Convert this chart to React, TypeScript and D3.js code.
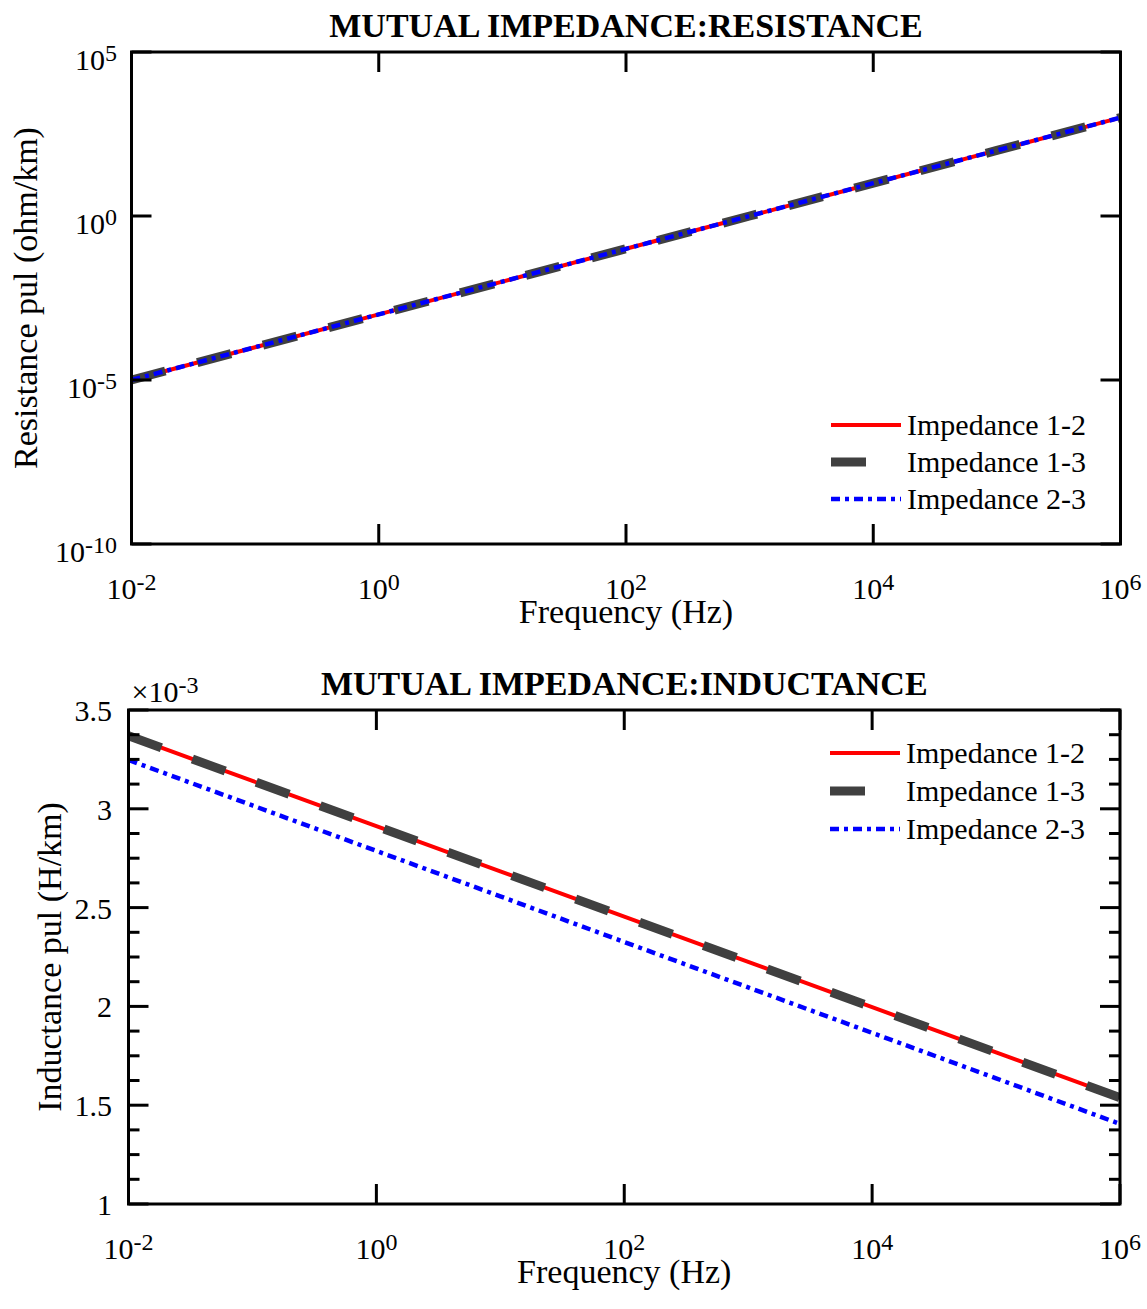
import React from "react";
import * as d3 from "d3";

// ---------- data ----------
const FREQ = [1e-2, 1e-1, 1e0, 1e1, 1e2, 1e3, 1e4, 1e5, 1e6];
const R12 = [1e-5, 1e-4, 1e-3, 1e-2, 1e-1, 1e0, 1e1, 1e2, 1e3];
const R13 = [1e-5, 1e-4, 1e-3, 1e-2, 1e-1, 1e0, 1e1, 1e2, 1e3];
const R23 = [1e-5, 1e-4, 1e-3, 1e-2, 1e-1, 1e0, 1e1, 1e2, 1e3];
const L12 = [3.37, 3.141, 2.912, 2.683, 2.454, 2.225, 1.996, 1.767, 1.538];
const L13 = [3.37, 3.141, 2.912, 2.683, 2.454, 2.225, 1.996, 1.767, 1.538];
const L23 = [3.247, 3.017, 2.787, 2.557, 2.326, 2.096, 1.866, 1.636, 1.405];

const SERIES_NAMES = ["Impedance 1-2", "Impedance 1-3", "Impedance 2-3"];
const X_TICKS = [1e-2, 1e0, 1e2, 1e4, 1e6];
const X_TICK_EXP = ["-2", "0", "2", "4", "6"];
const R_TICKS = [1e-10, 1e-5, 1e0, 1e5];
const R_TICK_EXP = ["-10", "-5", "0", "5"];
const L_TICKS = [1, 1.5, 2, 2.5, 3, 3.5];
const L_TICK_LABELS = ["1", "1.5", "2", "2.5", "3", "3.5"];

const FONT = "'Liberation Serif', 'Times New Roman', serif";

const STYLES = [
  { color: "#ff0000", width: 4, dash: "none", legendLen: 70 },
  { color: "#404040", width: 9, dash: "35,33", legendLen: 35 },
  { color: "#0000ff", width: 4.5, dash: "9,5,4,5", legendLen: 70 },
];

type PanelProps = {
  left: number;
  right: number;
  top: number;
  bottom: number;
  title: string;
  titleY: number;
  ylabel: string;
  ylabelX: number;
  series: number[][];
  logY: boolean;
  legendRows: number[];
  legendX: number;
};

function Panel(p: PanelProps) {
  const x = d3.scaleLog().domain([1e-2, 1e6]).range([p.left, p.right]);
  const y: any = p.logY
    ? d3.scaleLog().domain([1e-10, 1e5]).range([p.bottom, p.top])
    : d3.scaleLinear().domain([1, 3.5]).range([p.bottom, p.top]);
  const line = d3
    .line<number>()
    .x((_, i) => x(FREQ[i]))
    .y((d) => y(d));
  const cx = (p.left + p.right) / 2;
  const cy = (p.top + p.bottom) / 2;
  const major = 20;
  const minor = 11;
  const yMinor = p.logY ? [] : d3.range(1, 3.5001, 0.125).filter((v) => Math.abs(v * 2 - Math.round(v * 2)) > 1e-6);
  const yTicks = p.logY ? R_TICKS : L_TICKS;

  return (
    <g>
      <text x={cx} y={p.titleY} textAnchor="middle" fontFamily={FONT} fontWeight="bold" fontSize={34}>
        {p.title}
      </text>
      {/* data lines */}
      {p.series.map((s, i) => (
        <path
          key={i}
          d={line(s) || ""}
          fill="none"
          stroke={STYLES[i].color}
          strokeWidth={STYLES[i].width}
          strokeDasharray={STYLES[i].dash}
          strokeLinecap="butt"
        />
      ))}
      {/* axes box */}
      <rect x={p.left} y={p.top} width={p.right - p.left} height={p.bottom - p.top} fill="none" stroke="#000" strokeWidth={3} />
      {/* x ticks */}
      {X_TICKS.map((t, i) => (
        <g key={"xt" + i}>
          <line x1={x(t)} x2={x(t)} y1={p.bottom} y2={p.bottom - major} stroke="#000" strokeWidth={3} />
          <line x1={x(t)} x2={x(t)} y1={p.top} y2={p.top + major} stroke="#000" strokeWidth={3} />
          <text x={x(t)} y={p.bottom + 55} textAnchor="middle" fontFamily={FONT} fontSize={30}>
            10
            <tspan fontSize={24} dy={-9}>
              {X_TICK_EXP[i]}
            </tspan>
          </text>
        </g>
      ))}
      {/* y ticks */}
      {yTicks.map((t, i) => (
        <g key={"yt" + i}>
          <line x1={p.left} x2={p.left + major} y1={y(t)} y2={y(t)} stroke="#000" strokeWidth={3} />
          <line x1={p.right} x2={p.right - major} y1={y(t)} y2={y(t)} stroke="#000" strokeWidth={3} />
          {p.logY ? (
            <text x={117} y={y(t) + 18} textAnchor="end" fontFamily={FONT} fontSize={30}>
              10
              <tspan fontSize={24} dy={-9}>
                {R_TICK_EXP[i]}
              </tspan>
            </text>
          ) : (
            <text x={112} y={y(t) + 11} textAnchor="end" fontFamily={FONT} fontSize={30}>
              {L_TICK_LABELS[i]}
            </text>
          )}
        </g>
      ))}
      {yMinor.map((t, i) => (
        <g key={"ym" + i}>
          <line x1={p.left} x2={p.left + minor} y1={y(t)} y2={y(t)} stroke="#000" strokeWidth={3} />
          <line x1={p.right} x2={p.right - minor} y1={y(t)} y2={y(t)} stroke="#000" strokeWidth={3} />
        </g>
      ))}
      {!p.logY && (
        <text x={p.left + 3} y={p.top - 8} fontFamily={FONT} fontSize={30}>
          ×10
          <tspan fontSize={24} dy={-9}>
            -3
          </tspan>
        </text>
      )}
      {/* axis labels */}
      <text x={cx} y={p.bottom + 79} textAnchor="middle" fontFamily={FONT} fontSize={34}>
        Frequency (Hz)
      </text>
      <text transform={`translate(${p.ylabelX},${cy}) rotate(-90)`} textAnchor="middle" fontFamily={FONT} fontSize={34}>
        {p.ylabel}
      </text>
      {/* legend */}
      {SERIES_NAMES.map((n, i) => (
        <g key={"lg" + i}>
          <line
            x1={p.legendX}
            x2={p.legendX + STYLES[i].legendLen}
            y1={p.legendRows[i]}
            y2={p.legendRows[i]}
            stroke={STYLES[i].color}
            strokeWidth={STYLES[i].width}
            strokeDasharray={STYLES[i].dash}
          />
          <text x={p.legendX + 76} y={p.legendRows[i] + 10} fontFamily={FONT} fontSize={30}>
            {n}
          </text>
        </g>
      ))}
    </g>
  );
}

export default function App() {
  return (
    <svg
      width={1147}
      height={1309}
      viewBox="0 0 1147 1309"
      style={{ position: "absolute", left: 0, top: 0, background: "#fff" }}
    >
      <rect x={0} y={0} width={1147} height={1309} fill="#fff" />
      <Panel
        left={131.5}
        right={1120.5}
        top={52}
        bottom={544}
        title="MUTUAL IMPEDANCE:RESISTANCE"
        titleY={37}
        ylabel="Resistance pul (ohm/km)"
        ylabelX={37}
        series={[R12, R13, R23]}
        logY={true}
        legendRows={[425, 462, 499]}
        legendX={831}
      />
      <Panel
        left={128.5}
        right={1120}
        top={710}
        bottom={1204}
        title="MUTUAL IMPEDANCE:INDUCTANCE"
        titleY={695}
        ylabel="Inductance pul (H/km)"
        ylabelX={61}
        series={[L12, L13, L23]}
        logY={false}
        legendRows={[753, 791, 829]}
        legendX={830}
      />
    </svg>
  );
}
